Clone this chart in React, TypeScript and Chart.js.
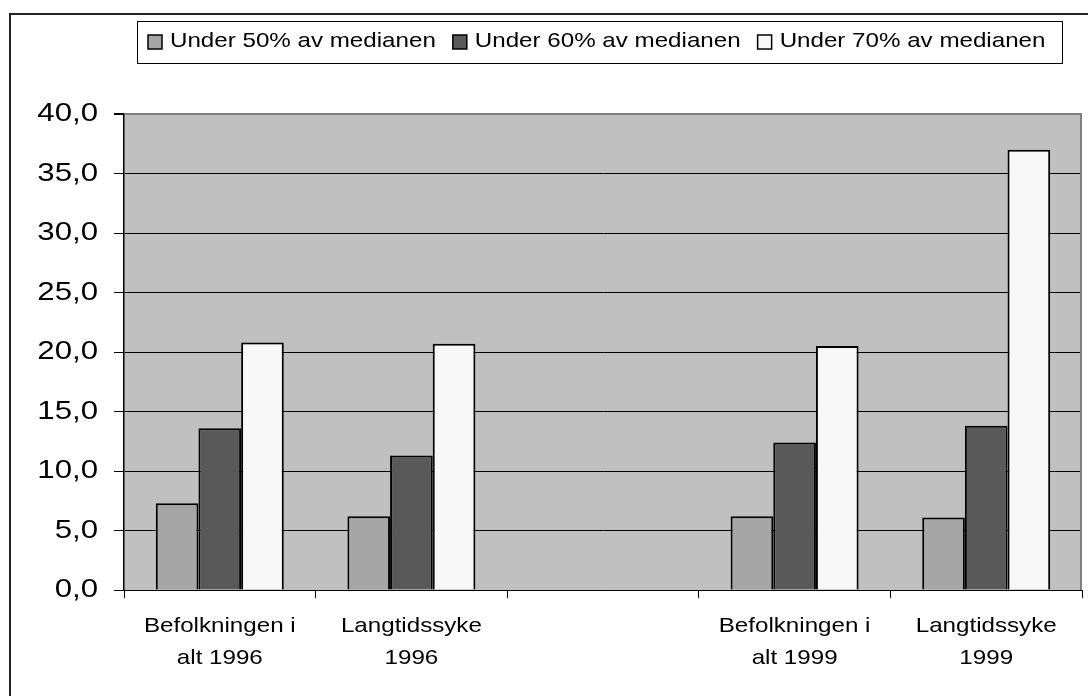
import React, { useEffect, useRef } from 'react';
import { Chart, registerables } from 'chart.js';

Chart.register(...registerables);

// ---- Data ----
const categories: (string | string[])[] = [
  ['Befolkningen i', 'alt 1996'],
  ['Langtidssyke', '1996'],
  '',
  ['Befolkningen i', 'alt 1999'],
  ['Langtidssyke', '1999'],
];
const seriesNames = ['Under 50% av medianen', 'Under 60% av medianen', 'Under 70% av medianen'];
const under50: (number | null)[] = [7.3, 6.2, null, 6.2, 6.1];
const under60: (number | null)[] = [13.6, 11.3, null, 12.4, 13.8];
const under70: (number | null)[] = [20.8, 20.7, null, 20.5, 37.0];
const yTicks = [0, 5, 10, 15, 20, 25, 30, 35, 40];
const yTickLabels = ['0,0', '5,0', '10,0', '15,0', '20,0', '25,0', '30,0', '35,0', '40,0'];
const seriesColors = ['#a6a6a6', '#595959', '#f8f8f8'];

const FONT = '"Liberation Sans", Arial, sans-serif';

// Stretch tick label glyphs horizontally around their anchor point
function patchStretch(scale: any, k: number) {
  if (scale.__stretchPatched) return;
  const orig = scale.drawLabels.bind(scale);
  scale.drawLabels = (area: any) => {
    const ctx = scale.ctx as any;
    const protoTranslate = CanvasRenderingContext2D.prototype.translate;
    ctx.translate = function (x: number, y: number) {
      protoTranslate.call(this, x, y);
      this.scale(k, 1);
    };
    try {
      orig(area);
    } finally {
      delete ctx.translate;
    }
  };
  scale.__stretchPatched = true;
}

const backgroundPlugin = {
  id: 'bgFrame',
  beforeDraw(chart: any) {
    const { ctx, chartArea } = chart;
    ctx.save();
    ctx.fillStyle = '#ffffff';
    ctx.fillRect(0, 0, chart.width, chart.height);
    // outer frame
    ctx.strokeStyle = '#222';
    ctx.lineWidth = 2;
    ctx.strokeRect(10, 14, chart.width + 50, chart.height + 50);
    // plot area
    ctx.fillStyle = '#c0c0c0';
    ctx.fillRect(chartArea.left, chartArea.top, chartArea.right - chartArea.left, chartArea.bottom - chartArea.top);
    ctx.restore();
  },
  beforeDatasetsDraw(chart: any) {
    const { ctx, chartArea } = chart;
    ctx.save();
    ctx.strokeStyle = '#808080';
    ctx.lineWidth = 2;
    ctx.beginPath();
    ctx.moveTo(chartArea.right - 1, chartArea.top);
    ctx.lineTo(chartArea.right - 1, chartArea.bottom);
    ctx.stroke();
    ctx.restore();
  },
};

const LEGEND_STRETCH = 1.15;
const legendPlugin = {
  id: 'boxLegend',
  afterDraw(chart: any) {
    const ctx = chart.ctx as any;
    ctx.save();
    ctx.strokeStyle = '#000';
    ctx.lineWidth = 1;
    ctx.strokeRect(137.5, 21.5, 925, 42);
    ctx.font = `21px ${FONT}`;
    ctx.textBaseline = 'middle';
    ctx.textAlign = 'left';
    let x = 148;
    chart.data.datasets.forEach((ds: any) => {
      ctx.fillStyle = ds.backgroundColor;
      ctx.fillRect(x, 35, 14, 14);
      ctx.strokeStyle = '#000';
      ctx.lineWidth = 1.5;
      ctx.strokeRect(x, 35, 14, 14);
      ctx.fillStyle = '#000';
      const tx = x + 22;
      ctx.save();
      ctx.translate(tx, 41);
      ctx.scale(LEGEND_STRETCH, 1);
      ctx.fillText(ds.label, 0, 0);
      ctx.restore();
      x += 22 + ctx.measureText(ds.label).width * LEGEND_STRETCH + 17;
    });
    ctx.restore();
  },
};

export default function App() {
  const canvasRef = useRef<HTMLCanvasElement | null>(null);

  useEffect(() => {
    if (!canvasRef.current) return;
    const seriesData = [under50, under60, under70];
    const chart = new Chart(canvasRef.current, {
      type: 'bar',
      data: {
        labels: categories,
        datasets: seriesNames.map((name, i) => ({
          label: name,
          data: seriesData[i],
          backgroundColor: seriesColors[i],
          borderColor: '#000',
          borderWidth: 2,
          categoryPercentage: 0.668,
          barPercentage: 1,
        })),
      },
      options: {
        responsive: false,
        animation: false,
        devicePixelRatio: 1,
        layout: { padding: { top: 114, right: 6, bottom: 0, left: 0 } },
        plugins: {
          legend: { display: false },
          title: { display: false },
          tooltip: { enabled: false },
        },
        scales: {
          x: {
            offset: true,
            grid: {
              offset: true,
              drawOnChartArea: false,
              drawTicks: true,
              tickLength: 8,
              color: '#000',
              tickColor: '#000',
            },
            border: { display: true, color: '#000', width: 1 },
            ticks: {
              color: '#000',
              font: { family: FONT, size: 21, lineHeight: 1.52 },
              padding: 12,
              maxRotation: 0,
              minRotation: 0,
              autoSkip: false,
            },
            afterFit: (scale: any) => {
              scale.height = 106;
            },
            afterUpdate: (scale: any) => patchStretch(scale, 1.15),
          },
          y: {
            min: 0,
            max: 40,
            afterBuildTicks: (scale: any) => {
              scale.ticks = yTicks.map((v) => ({ value: v }));
            },
            grid: {
              color: (c: any) => (c.tick && c.tick.value === 40 ? '#808080' : '#000'),
              lineWidth: (c: any) => (c.tick && c.tick.value === 40 ? 2 : 1),
              tickColor: '#000',
              tickLength: 10,
              drawTicks: true,
            },
            border: { display: true, color: '#000', width: 1.5 },
            ticks: {
              color: '#000',
              font: { family: FONT, size: 26 },
              padding: 16,
              callback: (_v: any, idx: number) => yTickLabels[idx],
            },
            afterFit: (scale: any) => {
              scale.width = 124;
            },
            afterUpdate: (scale: any) => patchStretch(scale, 1.2),
          },
        },
      },
      plugins: [backgroundPlugin, legendPlugin],
    });
    chart.draw();
    return () => chart.destroy();
  }, []);

  return (
    <div style={{ position: 'absolute', left: 0, top: 0, width: 1088, height: 696, background: '#fff' }}>
      <canvas ref={canvasRef} width={1088} height={696} style={{ display: 'block', width: 1088, height: 696 }} />
    </div>
  );
}
